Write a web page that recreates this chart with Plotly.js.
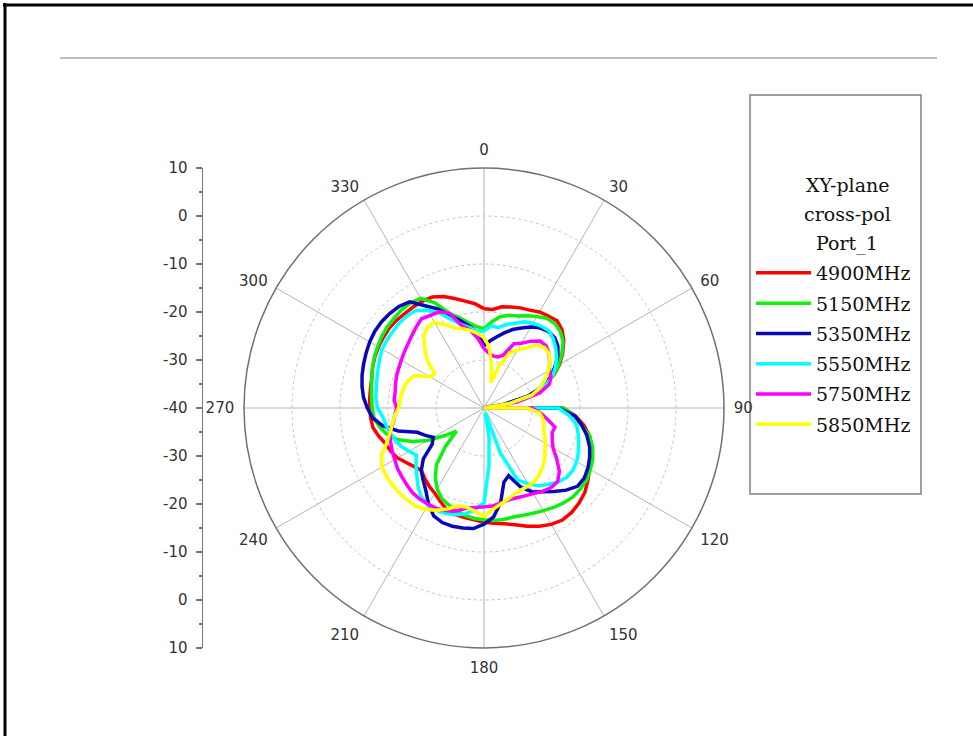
<!DOCTYPE html>
<html>
<head>
<meta charset="utf-8">
<script src="https://cdn.plot.ly/plotly-3.0.1.min.js"></script>
<style>html,body{margin:0;padding:0;background:#fff;}#chart{width:973px;height:736px;}</style>
</head>
<body>
<div id="chart"></div>
<script>
// Angles (degrees, clockwise from top)
const angles = [0,5,10,15,20,25,30,35,40,45,50,55,60,65,70,75,80,85,90,95,100,105,110,115,120,125,130,135,140,145,150,155,160,165,170,175,180,185,190,195,200,205,210,215,220,225,230,235,240,245,250,255,260,265,270,275,280,285,290,295,300,305,310,315,320,325,330,335,340,345,350,355];

// Cross-pol gain (dB) per frequency
const f4900 = [-19.3,-19.4,-18.6,-18.2,-17.8,-17.5,-16.9,-16.6,-16.3,-17,-18.3,-20,-21.8,-24,-27,-30.5,-35.5,-40,-23.5,-20.8,-18.8,-17.2,-16.1,-15.3,-14.6,-13.6,-12.6,-12,-11.6,-11.5,-12,-12.8,-13.8,-14.8,-15.5,-15.9,-16.2,-16.6,-16.8,-17,-17.4,-18.5,-19.5,-20.1,-20.8,-21.6,-21,-20.2,-19.2,-18.6,-18.2,-17.3,-16.5,-16.3,-16.2,-16.1,-16,-15.8,-15.3,-14.9,-14.6,-14.4,-14.2,-14.2,-14.3,-14.3,-14.3,-14.5,-15.3,-16.4,-17.4,-18.2];
const f5150 = [-23.5,-22,-20.7,-20,-19.6,-18.8,-18,-17.2,-17,-17.5,-18.5,-20.2,-22,-24.2,-27,-30.5,-35.5,-40,-23.5,-21,-19.4,-17.2,-15.9,-15,-14.4,-13.9,-13.8,-13.8,-14.2,-14.7,-15.3,-15.8,-16.2,-16.5,-16.4,-16.5,-16.7,-16.9,-17.3,-17.8,-18.5,-19.2,-20.5,-22.3,-24.6,-28.6,-32.5,-30,-26.5,-23.5,-20.8,-19,-17.8,-17,-16.7,-16.5,-16.2,-15.8,-15.3,-14.8,-14.4,-14,-13.7,-13.5,-13.3,-13.3,-13.6,-15.8,-19,-20.6,-22,-23];
const f5350 = [-27,-26,-25,-23.8,-22.6,-21.6,-20.5,-19.6,-19.2,-19.2,-19.9,-21.2,-23,-24.6,-27.3,-30.5,-36,-40,-24.5,-21,-19.3,-17.8,-16.6,-15.7,-15,-14.5,-14.6,-15.8,-17.3,-18.7,-19.8,-21.8,-25,-24,-20,-17.2,-15.8,-14.8,-14.6,-14.5,-14.6,-15.2,-16.9,-18.9,-20.3,-21.5,-23.5,-26.8,-27.8,-26.5,-25.2,-21.5,-18.6,-16.7,-15.7,-14.8,-14.2,-13.7,-13.3,-12.9,-12.5,-12.2,-12.1,-12.2,-12.4,-13,-15.4,-17.2,-19.5,-21.2,-22.7,-24.2];
const f5550 = [-24,-22.8,-23,-22,-21.2,-20.2,-19.6,-19.2,-19,-19.6,-20.5,-21.5,-22.8,-24.2,-26.5,-29.5,-34.5,-40,-24.5,-22.2,-20.5,-19.7,-19,-18.3,-17.7,-17.4,-17.5,-18.2,-19.2,-20.2,-21.8,-23.5,-30,-39,-34,-28,-20.2,-18.8,-17.6,-17,-16.6,-16.5,-16.6,-17.3,-18.6,-20.2,-21.5,-22.8,-22,-21,-20.3,-19.8,-19.3,-18.8,-17.8,-17.4,-17.2,-16.9,-16.5,-16,-15.5,-15.3,-15.2,-15,-15,-15.2,-16.5,-18.2,-20.4,-22,-23,-24];
const f5750 = [-27.6,-28.5,-29,-29,-28.3,-25.2,-24.4,-23,-21.8,-21.7,-22.3,-23.3,-24.3,-24.6,-25.5,-28,-33,-40,-30,-28.2,-26.6,-24.7,-24.9,-24.3,-23.4,-21.5,-19.5,-18.3,-18.3,-18.8,-19.4,-19.8,-20.1,-20.2,-19.9,-19.5,-19.4,-19.2,-18.8,-17.8,-17.2,-16.9,-16.8,-16.8,-16.9,-17.3,-17.7,-18,-18.5,-18.9,-19.3,-19.7,-20.7,-21.3,-21.8,-21.2,-21.2,-20.9,-20.6,-20.4,-20.1,-19.7,-19.3,-18.7,-18,-17.3,-17.7,-17.9,-19,-22.3,-23.5,-25.5];
const f5850 = [-25.3,-27.3,-31,-34.5,-30.5,-27.3,-26,-24.7,-22.9,-22.2,-22.3,-23.2,-24.5,-26,-27.6,-29.7,-34.5,-40,-31,-28.4,-27.6,-27.1,-26.8,-26,-25.3,-24.5,-23.5,-22.7,-22,-21.5,-21.3,-21.3,-21,-20.4,-19.7,-18.8,-17.4,-18.4,-19,-18.9,-17.6,-16.5,-15.6,-15.1,-15,-15,-15.1,-15.2,-15.4,-16.4,-18.4,-19.7,-20.6,-21.3,-22.2,-22.4,-22.6,-22.8,-23.2,-24,-27,-27.5,-24.5,-22.6,-20.5,-19.4,-19.4,-20.9,-22.2,-22.9,-23.6,-24.4];

const seriesNames = ['4900MHz','5150MHz','5350MHz','5550MHz','5750MHz','5850MHz'];
const seriesValues = [f4900, f5150, f5350, f5550, f5750, f5850];
const seriesColors = ['#ff0000','#10f010','#0808b8','#00ffff','#ff00ff','#ffff00'];

// Angular tick labels
const angleTickVals = [0,30,60,90,120,150,180,210,240,270,300,330];
const angleTickText = ['0','30','60','90','120','150','180','210','240','270','300','330'];

// Left radial scale (linear mirror of the polar radius)
const scaleTickVals = [-50,-40,-30,-20,-10,0,10,20,30,40,50];
const scaleTickText = ['10','0','-10','-20','-30','-40','-30','-20','-10','0','10'];

// Legend heading lines
const legendHeading = ['XY-plane','cross-pol','Port_1'];

const W = 973, H = 736;
const cx = 484, cy = 408, R = 240;
const sansFont = 'DejaVu Sans, Liberation Sans, Arial, sans-serif';
const serifFont = 'DejaVu Serif, Liberation Serif, serif';

const traces = seriesNames.map((name, i) => ({
  type: 'scatterpolar',
  mode: 'lines',
  name: name,
  legendgroup: 'g' + i,
  r: seriesValues[i].concat([seriesValues[i][0]]),
  theta: angles.concat([360]),
  line: {color: seriesColors[i], width: 3.5},
  hoverinfo: 'skip'
}));

traces.push({
  type: 'scatter', x: [], y: [], xaxis: 'x', yaxis: 'y',
  showlegend: false, hoverinfo: 'skip', mode: 'lines'
});

const headingY = [185, 214, 243];
const annotations = legendHeading.map((t, i) => ({
  xref: 'paper', yref: 'paper', x: 847 / W, y: (H - headingY[i]) / H,
  xanchor: 'center', yanchor: 'middle', showarrow: false, text: t,
  font: {family: serifFont, size: 19, color: '#111111'}
}));

const layout = {
  width: W, height: H,
  margin: {l: 0, r: 0, t: 0, b: 0},
  paper_bgcolor: '#ffffff',
  plot_bgcolor: 'rgba(0,0,0,0)',
  showlegend: true,
  polar: {
    domain: {x: [(cx - R) / W, (cx + R) / W], y: [(H - cy - R) / H, (H - cy + R) / H]},
    bgcolor: '#ffffff',
    radialaxis: {
      range: [-40, 10], tickmode: 'array', tickvals: [-30, -20, -10, 0],
      showticklabels: false, ticks: '', showline: false,
      gridcolor: '#c4c4c4', griddash: 'dot', gridwidth: 1
    },
    angularaxis: {
      rotation: 90, direction: 'clockwise', tickmode: 'array',
      tickvals: angleTickVals, ticktext: angleTickText,
      showline: true, linecolor: '#707070', linewidth: 1.5,
      gridcolor: '#b4b4b4', gridwidth: 1,
      ticks: 'outside', ticklen: 6, tickcolor: 'rgba(0,0,0,0)',
      tickfont: {family: sansFont, size: 15, color: '#333333'}
    }
  },
  xaxis: {domain: [203 / W, 0.24], visible: false, range: [0, 1], fixedrange: true},
  yaxis: {
    domain: [(H - cy - R) / H, (H - cy + R) / H], range: [-50, 50], anchor: 'x',
    tickmode: 'array', tickvals: scaleTickVals, ticktext: scaleTickText,
    ticks: 'outside', ticklen: 6, tickwidth: 1.2, tickcolor: '#777777',
    ticklabelstandoff: 5,
    showline: true, linecolor: '#777777', linewidth: 1.5,
    showgrid: false, zeroline: false, fixedrange: true,
    minor: {tickmode: 'linear', tick0: -45, dtick: 10, ticks: 'outside', ticklen: 3, tickcolor: '#777777', showgrid: false},
    tickfont: {family: sansFont, size: 15, color: '#333333'}
  },
  legend: {
    x: 751 / W, y: (H - 254) / H, xanchor: 'left', yanchor: 'top',
    bgcolor: 'rgba(0,0,0,0)', borderwidth: 0,
    font: {family: serifFont, size: 19, color: '#111111'},
    itemwidth: 55, tracegroupgap: 2.6
  },
  annotations: annotations,
  shapes: [
    {type: 'rect', xref: 'paper', yref: 'paper', x0: 750 / W, x1: 921 / W, y0: (H - 494) / H, y1: (H - 95) / H,
     line: {color: '#808080', width: 1.5}, fillcolor: 'rgba(0,0,0,0)', layer: 'below'},
    {type: 'line', xref: 'paper', yref: 'paper', x0: 60 / W, x1: 937 / W, y0: (H - 58) / H, y1: (H - 58) / H,
     line: {color: '#bdbdbd', width: 2}},
    {type: 'line', xref: 'paper', yref: 'paper', x0: 3 / W, x1: 1, y0: (H - 5) / H, y1: (H - 5) / H,
     line: {color: '#000000', width: 3}},
    {type: 'line', xref: 'paper', yref: 'paper', x0: 5 / W, x1: 5 / W, y0: 0, y1: (H - 3) / H,
     line: {color: '#000000', width: 3}}
  ]
};

Plotly.newPlot('chart', traces, layout, {displayModeBar: false, staticPlot: true});
</script>
</body>
</html>
